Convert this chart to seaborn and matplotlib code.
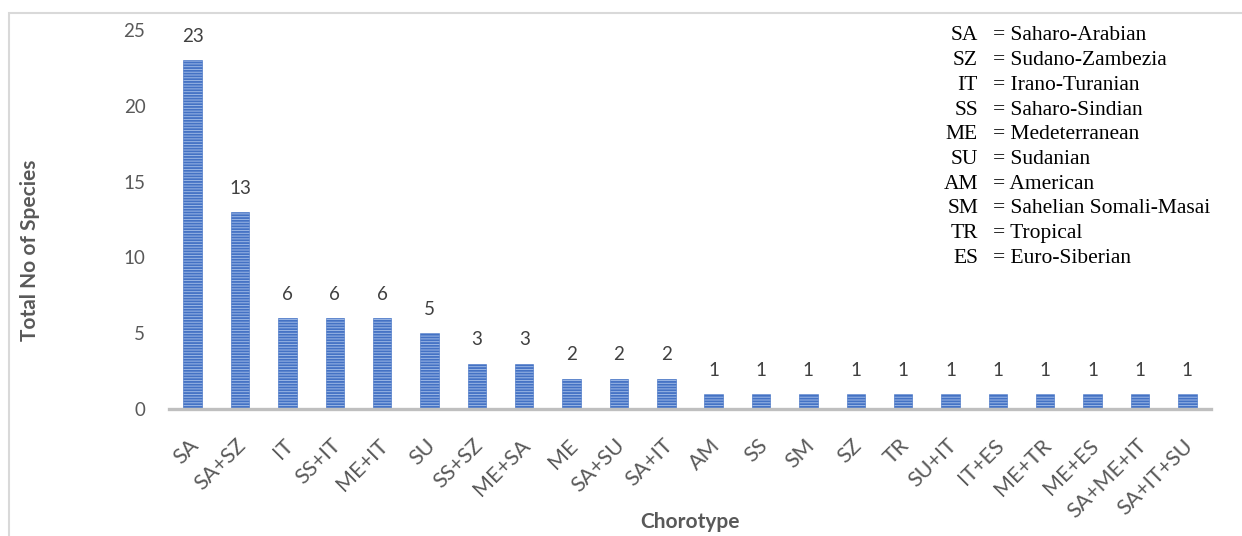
import matplotlib
matplotlib.use("Agg")
import matplotlib.pyplot as plt
from matplotlib.patches import Rectangle
from matplotlib.transforms import ScaledTranslation
import seaborn as sns
import pandas as pd

# Chorotype counts
chorotypes = ["SA", "SA+SZ", "IT", "SS+IT", "ME+IT", "SU", "SS+SZ", "ME+SA", "ME",
              "SA+SU", "SA+IT", "AM", "SS", "SM", "SZ", "TR", "SU+IT", "IT+ES",
              "ME+TR", "ME+ES", "SA+ME+IT", "SA+IT+SU"]
species = [23, 13, 6, 6, 6, 5, 3, 3, 2, 2, 2, 1, 1, 1, 1, 1, 1, 1, 1, 1, 1, 1]

# Abbreviation key
abbrev = ["SA", "SZ", "IT", "SS", "ME", "SU", "AM", "SM", "TR", "ES"]
meaning = ["Saharo-Arabian", "Sudano-Zambezia", "Irano-Turanian", "Saharo-Sindian",
           "Medeterranean", "Sudanian", "American", "Sahelian Somali-Masai",
           "Tropical", "Euro-Siberian"]

df = pd.DataFrame({"Chorotype": chorotypes, "Species": species})

sns.set_theme(style="white")
plt.rcParams["font.family"] = ["Lato", "DejaVu Sans"]
plt.rcParams["hatch.linewidth"] = 1.3

W, H = 1242, 536
fig = plt.figure(figsize=(W / 100, H / 100), dpi=100)
ax = fig.add_axes([169 / W, 1 - 409 / H, (1211 - 169) / W, (409 - 30) / H])

sns.barplot(data=df, x="Chorotype", y="Species", ax=ax, color="#9DB8E6",
            width=0.39, saturation=1, edgecolor="#4472C4", linewidth=0.4)
for p in ax.patches:
    p.set_hatch("------")

ax.set_xlim(-0.5, len(chorotypes) - 0.5)
ax.set_ylim(0, 25)
ax.set_yticks([0, 5, 10, 15, 20, 25])

# Value labels above bars
for i, v in enumerate(species):
    ax.annotate(str(v), (i, v), xytext=(0, 11), textcoords="offset points",
                ha="center", va="bottom", fontsize=13.5, color="#404040")

for s in ["top", "right", "left"]:
    ax.spines[s].set_visible(False)
ax.spines["bottom"].set_color("#BFBFBF")
ax.spines["bottom"].set_linewidth(2.4)

ax.tick_params(axis="y", length=0, pad=17, labelsize=13.5, labelcolor="#595959")
ax.tick_params(axis="x", length=0, pad=19, labelsize=15.5, labelcolor="#595959")
shift = ScaledTranslation(-4 / 100, 0, fig.dpi_scale_trans)
for lbl in ax.get_xticklabels():
    lbl.set_rotation(45)
    lbl.set_ha("right")
    lbl.set_va("top")
    lbl.set_rotation_mode("anchor")
    lbl.set_transform(lbl.get_transform() + shift)

ax.set_xlabel("")
ax.set_ylabel("")
fig.text(30 / W, 1 - 250 / H, "Total No of Species", rotation=90, ha="center",
         va="center", fontsize=15, fontweight="bold", color="#595959")
fig.text(690 / W, 1 - 522 / H, "Chorotype", ha="center", va="center",
         fontsize=15, fontweight="bold", color="#595959")

# Abbreviation key
for k, (a, m) in enumerate(zip(abbrev, meaning)):
    y = 1 - (36 + 24.7 * k) / H
    fig.text(978 / W, y, a, ha="right", va="center", fontsize=15.5,
             family="Liberation Serif", color="black")
    fig.text(993 / W, y, "= " + m, ha="left", va="center", fontsize=15.5,
             family="Liberation Serif", color="black")

# Chart frame
fig.patches.append(Rectangle((9 / W, -0.05), 1.1, 1 - 13 / H + 0.05,
                             transform=fig.transFigure, fill=False,
                             edgecolor="#D9D9D9", linewidth=1.5))

fig.savefig("out.png", dpi=100)
